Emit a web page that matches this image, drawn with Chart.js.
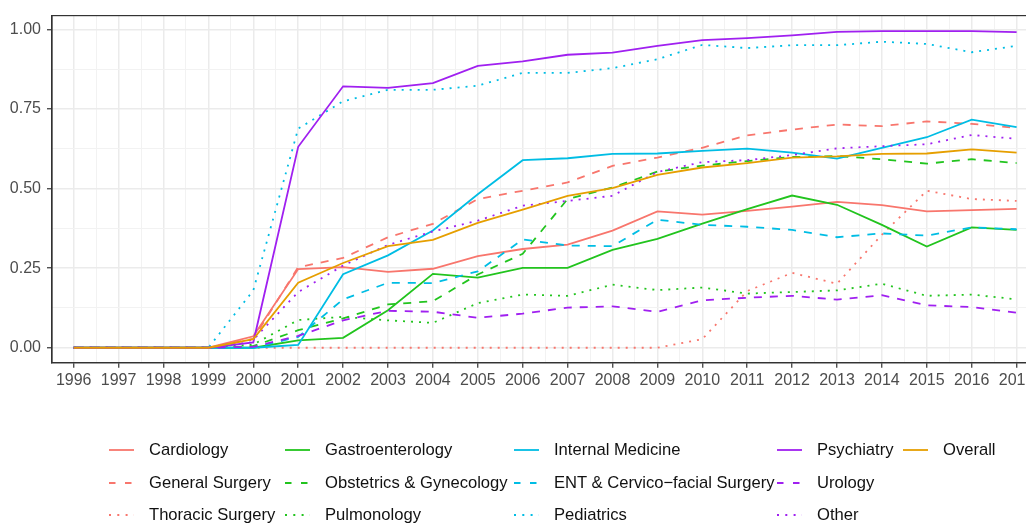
<!DOCTYPE html>
<html>
<head>
<meta charset="utf-8">
<script src="https://cdn.jsdelivr.net/npm/chart.js@4.4.1/dist/chart.umd.min.js"></script>
<style>
  html, body { margin: 0; padding: 0; background: #fff; overflow: hidden; }
  #wrap { position: relative; width: 1026px; height: 523px; overflow: hidden; }
  #chart { position: absolute; left: 0; top: 0; }
  .key { position: absolute; height: 20px; display: flex; align-items: center;
         font-family: "Liberation Sans", Arial, sans-serif; font-size: 16.6px; color: #111; white-space: nowrap; }
  .key svg { margin-right: 15px; }
</style>
</head>
<body>
<div id="wrap">
  <canvas id="chart" width="1060" height="523"></canvas>
  <div id="legend"></div>
</div>
<script>
const years = [1996,1997,1998,1999,2000,2001,2002,2003,2004,2005,2006,2007,2008,2009,2010,2011,2012,2013,2014,2015,2016,2017];

const cardiology     = [0,0,0,0,0.036,0.247,0.253,0.238,0.248,0.288,0.310,0.324,0.368,0.428,0.418,0.430,0.443,0.458,0.448,0.428,0.432,0.436];
const generalSurgery = [0,0,0,0,0.028,0.253,0.282,0.347,0.389,0.467,0.493,0.519,0.571,0.597,0.628,0.667,0.685,0.701,0.696,0.711,0.703,0.690];
const thoracic       = [0,0,0,0,0,0,0,0,0,0,0,0,0,0,0.027,0.178,0.235,0.201,0.355,0.493,0.467,0.461];
const gastro         = [0,0,0,0,0,0.023,0.031,0.118,0.232,0.220,0.251,0.251,0.307,0.342,0.390,0.435,0.478,0.449,0.386,0.318,0.378,0.370];
const obgyn          = [0,0,0,0,0.005,0.055,0.092,0.136,0.146,0.230,0.295,0.467,0.503,0.553,0.572,0.586,0.599,0.602,0.592,0.578,0.592,0.580];
const pulmonology    = [0,0,0,0,0.010,0.087,0.097,0.086,0.078,0.140,0.167,0.163,0.198,0.181,0.189,0.170,0.175,0.180,0.201,0.163,0.167,0.152];
const internalMed    = [0,0,0,0,0,0.009,0.231,0.290,0.368,0.482,0.589,0.595,0.609,0.610,0.618,0.625,0.613,0.594,0.628,0.661,0.716,0.693];
const ent            = [0,0,0,0,0,0.034,0.152,0.204,0.203,0.240,0.340,0.321,0.319,0.402,0.386,0.380,0.370,0.347,0.359,0.352,0.378,0.372];
const pediatrics     = [0,0,0,0,0.180,0.688,0.774,0.810,0.810,0.823,0.863,0.863,0.878,0.906,0.951,0.941,0.950,0.950,0.961,0.954,0.928,0.948];
const psychiatry     = [0,0,0,0,0.017,0.631,0.821,0.816,0.831,0.885,0.899,0.920,0.927,0.948,0.966,0.972,0.981,0.992,0.994,0.994,0.994,0.991];
const urology        = [0,0,0,0,0.003,0.037,0.086,0.116,0.113,0.094,0.107,0.126,0.130,0.113,0.149,0.157,0.163,0.151,0.165,0.133,0.128,0.110];
const other          = [0,0,0,0,0.025,0.175,0.258,0.323,0.365,0.399,0.446,0.461,0.477,0.552,0.583,0.589,0.605,0.626,0.633,0.639,0.668,0.656];
const overall        = [0,0,0,0,0.027,0.204,0.266,0.319,0.339,0.392,0.434,0.477,0.501,0.543,0.566,0.580,0.597,0.601,0.609,0.610,0.623,0.613];

const seriesNames = ['Cardiology', 'General Surgery', 'Thoracic Surgery',
  'Gastroenterology', 'Obstetrics & Gynecology', 'Pulmonology',
  'Internal Medicine', 'ENT & Cervico\u2212facial Surgery', 'Pediatrics',
  'Psychiatry', 'Urology', 'Other', 'Overall'];
const seriesValues = [cardiology, generalSurgery, thoracic, gastro, obgyn, pulmonology,
  internalMed, ent, pediatrics, psychiatry, urology, other, overall];
const seriesColors = ['#F8766D', '#F8766D', '#F8766D', '#22C41E', '#22C41E', '#22C41E',
  '#00BDE4', '#00BDE4', '#00BDE4', '#A020F0', '#A020F0', '#A020F0', '#E69F00'];
const seriesStyles = ['solid', 'dashed', 'dotted', 'solid', 'dashed', 'dotted',
  'solid', 'dashed', 'dotted', 'solid', 'dashed', 'dotted', 'solid'];

const yTicks = [0, 0.25, 0.5, 0.75, 1];

const dashFor = { solid: [], dashed: [8, 8], dotted: [2, 6] };
const FONT = '"Liberation Sans", Arial, sans-serif';

const datasets = seriesNames.map((name, i) => ({
  label: name,
  data: years.map((yr, j) => ({ x: yr, y: seriesValues[i][j] })),
  borderColor: seriesColors[i],
  backgroundColor: seriesColors[i],
  borderWidth: 1.8,
  borderDash: dashFor[seriesStyles[i]],
  pointRadius: 0,
  tension: 0,
  fill: false,
  order: seriesNames.length - i
}));

// panel border like theme_bw
const panelBorder = {
  id: 'panelBorder',
  afterDraw(chart) {
    const { ctx, chartArea: a } = chart;
    ctx.save();
    ctx.strokeStyle = '#333333';
    ctx.lineWidth = 1.2;
    ctx.strokeRect(a.left, a.top, a.right - a.left, a.bottom - a.top);
    ctx.restore();
  }
};

const isMajorX = v => Math.abs(v - Math.round(v)) < 1e-6;
const isMajorY = v => yTicks.some(t => Math.abs(t - v) < 1e-6);

new Chart(document.getElementById('chart'), {
  type: 'line',
  data: { datasets },
  plugins: [panelBorder],
  options: {
    responsive: false,
    animation: false,
    devicePixelRatio: 1,
    layout: { padding: { left: 0, top: 14, right: 21.7, bottom: 120.3 } },
    plugins: { legend: { display: false }, tooltip: { enabled: false } },
    scales: {
      x: {
        type: 'linear',
        min: 1995.517,
        max: 2017.483,
        afterFit: s => { s.height = 40; },
        ticks: {
          stepSize: 0.5,
          includeBounds: false,
          autoSkip: false,
          maxRotation: 0,
          padding: 3,
          color: '#4D4D4D',
          font: { family: FONT, size: 16 },
          callback: v => isMajorX(v) ? String(Math.round(v)) : ''
        },
        grid: {
          color: c => isMajorX(c.tick.value) ? '#EBEBEB' : '#F2F2F2',
          lineWidth: c => isMajorX(c.tick.value) ? 1.5 : 1,
          tickColor: c => isMajorX(c.tick.value) ? '#333333' : 'rgba(0,0,0,0)',
          tickWidth: 1.2,
          tickLength: 5
        },
        border: { display: true, color: '#333333', width: 1.2 }
      },
      y: {
        min: -0.047,
        max: 1.043,
        afterFit: s => { s.width = 52; },
        ticks: {
          stepSize: 0.125,
          includeBounds: false,
          autoSkip: false,
          padding: 6,
          color: '#4D4D4D',
          font: { family: FONT, size: 16 },
          callback: v => isMajorY(v) ? v.toFixed(2) : ''
        },
        grid: {
          color: c => isMajorY(c.tick.value) ? '#EBEBEB' : '#F2F2F2',
          lineWidth: c => isMajorY(c.tick.value) ? 1.5 : 1,
          tickColor: c => isMajorY(c.tick.value) ? '#333333' : 'rgba(0,0,0,0)',
          tickWidth: 1.2,
          tickLength: 5
        },
        border: { display: true, color: '#333333', width: 1.2 }
      }
    }
  }
});

// legend laid out column by column, as in the original
const legendCols = [109, 285, 514, 777, 903];
const legendRows = [450, 483, 515];
const legendEl = document.getElementById('legend');
seriesNames.forEach((name, i) => {
  const col = Math.floor(i / 3), row = i % 3;
  const item = document.createElement('div');
  item.className = 'key';
  item.style.left = legendCols[col] + 'px';
  item.style.top = (legendRows[row] - 10) + 'px';
  const dash = dashFor[seriesStyles[i]];
  const dashAttr = dash.length ? `stroke-dasharray="${seriesStyles[i] === 'dashed' ? '6.5 9.5' : '2 6.3'}"` : '';
  item.innerHTML = `<svg width="25" height="20"><line x1="0" y1="10" x2="25" y2="10" stroke="${seriesColors[i]}" stroke-width="1.8" ${dashAttr}/></svg>`;
  const span = document.createElement('span');
  span.textContent = name;
  item.appendChild(span);
  legendEl.appendChild(item);
});
</script>
</body>
</html>
